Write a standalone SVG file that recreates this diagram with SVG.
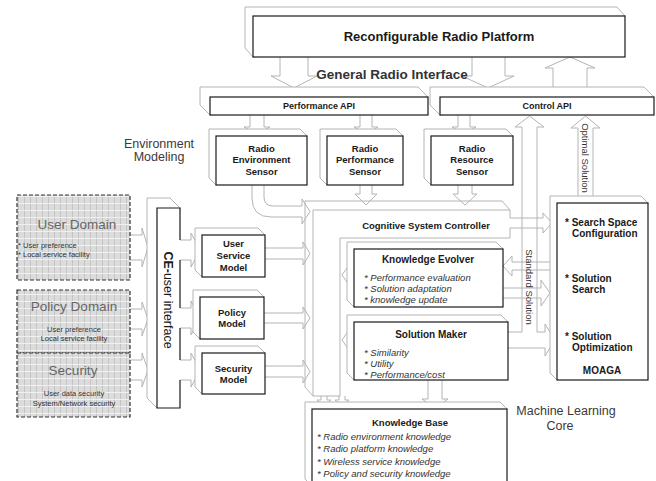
<svg xmlns="http://www.w3.org/2000/svg" width="656" height="481" viewBox="0 0 656 481">
  <defs>
    <!-- fine grid texture used for the domain panels -->
    <pattern id="grid" width="6" height="7" patternUnits="userSpaceOnUse">
      <rect width="6" height="7" fill="#dcdcdc"/>
      <path d="M0.5,0 V7" stroke="#c3c3c3" stroke-width="1"/>
      <path d="M0,0.5 H6" stroke="#f0f0f0" stroke-width="1"/>
    </pattern>
  </defs>
  <style>
    text { font-family: "Liberation Sans", Arial, Helvetica, sans-serif; }
    .fr { fill: #fff; stroke: #1a1a1a; stroke-width: 1.2; }
    .bk { fill: #fff; stroke: #b4b4b4; stroke-width: 1; }
    .ar { fill: none; stroke: #b4b4b4; stroke-width: 1; }
    .gw { fill: none; stroke: #b4b4b4; stroke-width: 1; }
    .ttl { font-weight: bold; font-size: 9.5px; fill: #1a1a1a; text-anchor: middle; }
    .mo { font-weight: bold; font-size: 10px; fill: #1a1a1a; }
    .it { font-style: italic; font-size: 9.5px; fill: #333; }
    .lbl { font-size: 12.5px; fill: #3a3a3a; text-anchor: middle; }
    .vt { font-size: 9.5px; fill: #333; text-anchor: middle; }
    .dom { fill: url(#grid); stroke: #333; stroke-width: 1.2; stroke-dasharray: 4 2; }
    .dt { font-size: 13.5px; fill: #666; text-anchor: middle; }
    .ds { font-size: 7.5px; fill: #333; }
  </style>

  <rect width="656" height="481" fill="#fff"/>

  <!-- hollow block arrows between the components -->
  <g id="connectors">
    <path class="ar" d="M280,57 V76 H271 L294,88 L317,76 H308 V57"/>
    <path class="ar" d="M472,57 V76 H462 L488,88 L514,76 H505 V57"/>
    <path class="ar" d="M553,87 V68 H545 L570,57 L595,68 H587 V87"/>
    <text x="392" y="79" style="font-weight:bold;font-size:13.5px;fill:#333;text-anchor:middle">General Radio Interface</text>

    <path class="ar" d="M250,115 V127 H244 L257,134 L270,127 H264 V115"/>
    <path class="ar" d="M360,115 V127 H354 L366,134 L378,127 H372 V115"/>
    <path class="ar" d="M458,115 V127 H452 L464,134 L476,127 H470 V115"/>
    <path class="ar" d="M360,185 V194 H355 L366,205 L377,194 H372 V185"/>
    <path class="ar" d="M458,185 V194 H453 L465,205 L477,194 H472 V185"/>
    <path class="ar" d="M264,185 V197 Q264,206 273,206 H302 V199 L310,211.5 L302,224 V217 H271 Q252,217 252,198 V185"/>

    <path class="ar" d="M130,235 H142 V228 L148,247.5 L142,267 V260 H130"/>
    <path class="ar" d="M130,309 H142 V302 L148,319 L142,336 V329 H130"/>
    <path class="ar" d="M130,360 H142 V353 L148,370 L142,387 V380 H130"/>

    <path class="ar" d="M180,240 H191 V233 L200,250 L191,267 V260 H180"/>
    <path class="ar" d="M180,308 H191 V301 L200,318 L191,335 V328 H180"/>
    <path class="ar" d="M180,360 H191 V353 L200,370 L191,387 V380 H180"/>

    <path class="ar" d="M265,248 H303 V242 L310,253.5 L303,265 V259 H265"/>
    <path class="ar" d="M264,313 H303 V307 L310,318 L303,329 V323 H264"/>
    <path class="ar" d="M265,366 H303 V360 L310,371.5 L303,383 V377 H265"/>

    <path class="ar" d="M510,218 H543 V213 L552,223 L543,233 V228 H510"/>
    <path class="ar" d="M557,262 H512 V256 L503,266 L512,276 V270 H557"/>
    <path class="ar" d="M503,288 H541 V280 L550,293 L541,306 V298 H503"/>

    <path class="ar" d="M508,332 H522 V127 H515 L529.5,116 L544,127 H537 V332 H545 V324 L555,340 L545,356 V348 H508"/>
    <text class="vt" transform="translate(529.5,287) rotate(90)" y="3.4">Standard  Solution</text>

    <path class="ar" d="M578,196 V128 H571 L585.5,116 L600,128 H593 V196"/>
    <text class="vt" transform="translate(585.5,158) rotate(90)" y="3.4">Optimal  Solution</text>

    <path class="ar" d="M321,396 V400 H317 L324,407 L331,400 H327 V396"/>
    <path class="ar" d="M339,396 V400 H335 L342,407 L349,400 H345 V396"/>
    <path class="ar" d="M428,380 V399 H422 L435,408 L448,399 H442 V380"/>

    <path class="ar" d="M354,271 H349 V265 L342,275 L349,285 V279 H354"/>
    <path class="ar" d="M354,336 H349 V330 L342,340 L349,350 V344 H354"/>
  </g>

  <g id="platform">
    <polygon class="bk" points="253,57 245,48 245,7 617,7 625,16"/>
    <rect class="fr" x="253" y="16" width="372" height="41"/>
    <text class="ttl" x="439" y="41" style="font-size:13px">Reconfigurable Radio Platform</text>
  </g>

  <g id="performance-api">
    <polygon class="bk" points="210,115 200,105 200,87 418,87 428,97"/>
    <rect class="fr" x="210" y="97" width="218" height="18"/>
    <text class="ttl" x="319" y="109.3" style="font-size:9px">Performance API</text>
  </g>

  <g id="control-api">
    <polygon class="bk" points="440,115 430,105 430,87 644,87 654,97"/>
    <rect class="fr" x="440" y="97" width="214" height="18"/>
    <text class="ttl" x="547" y="109.3" style="font-size:9px">Control API</text>
  </g>

  <g id="radio-environment-sensor">
    <polygon class="bk" points="216,185 209,178 209,129 300,129 307,136"/>
    <rect class="fr" x="216" y="136" width="91" height="49"/>
    <text class="ttl" x="261.5" y="151.5">Radio</text>
    <text class="ttl" x="261.5" y="163">Environment</text>
    <text class="ttl" x="261.5" y="174.5">Sensor</text>
  </g>

  <g id="radio-performance-sensor">
    <polygon class="bk" points="327,185 320,178 320,129 396,129 403,136"/>
    <rect class="fr" x="327" y="136" width="76" height="49"/>
    <text class="ttl" x="365" y="151.5">Radio</text>
    <text class="ttl" x="365" y="163">Performance</text>
    <text class="ttl" x="365" y="174.5">Sensor</text>
  </g>

  <g id="radio-resource-sensor">
    <polygon class="bk" points="431,185 424,178 424,129 506,129 513,136"/>
    <rect class="fr" x="431" y="136" width="82" height="49"/>
    <text class="ttl" x="472" y="151.5">Radio</text>
    <text class="ttl" x="472" y="163">Resource</text>
    <text class="ttl" x="472" y="174.5">Sensor</text>
  </g>

  <g id="cognitive-system-controller">
    <path class="gw" d="M313,396 L305,387 V201 H502 L510,210 H313 V396 H340"/>
    <path class="gw" d="M510,210 V218 M510,228 V238 H340 V396"/>
    <text class="ttl" x="426" y="228.5">Cognitive System Controller</text>
  </g>

  <g id="knowledge-evolver">
    <polygon class="bk" points="354,307 347,300 347,242 496,242 503,249"/>
    <rect class="fr" x="354" y="249" width="149" height="58"/>
    <text class="ttl" x="428" y="262.5" style="font-size:10px">Knowledge Evolver</text>
    <text class="it" x="364" y="280.5">* Performance evaluation</text>
    <text class="it" x="364" y="291.5">* Solution adaptation</text>
    <text class="it" x="364" y="302.5">* knowledge update</text>
  </g>

  <g id="solution-maker">
    <polygon class="bk" points="354,380 347,373 347,315 501,315 508,322"/>
    <rect class="fr" x="354" y="322" width="154" height="58"/>
    <text class="ttl" x="431" y="337.5" style="font-size:10px">Solution Maker</text>
    <text class="it" x="364" y="355.5">* Similarity</text>
    <text class="it" x="364" y="366.5">* Utility</text>
    <text class="it" x="364" y="377.5">* Performance/cost</text>
  </g>

  <g id="moaga">
    <polygon class="bk" points="557,380 550,373 550,196 641,196 648,203"/>
    <rect class="fr" x="557" y="203" width="91" height="177"/>
    <text class="mo" x="565" y="225.5">* Search Space</text>
    <text class="mo" x="572" y="236.5">Configuration</text>
    <text class="mo" x="565" y="281.5">* Solution</text>
    <text class="mo" x="572" y="292.5">Search</text>
    <text class="mo" x="565" y="339.5">* Solution</text>
    <text class="mo" x="572" y="350.5">Optimization</text>
    <text class="mo" x="602" y="373.5" style="text-anchor:middle">MOAGA</text>
  </g>

  <g id="knowledge-base">
    <polygon class="bk" points="312,486 305,479 305,402 500,402 507,409"/>
    <rect class="fr" x="312" y="409" width="195" height="78"/>
    <text class="ttl" x="410" y="425.5">Knowledge Base</text>
    <text class="it" x="317" y="440">* Radio environment knowledge</text>
    <text class="it" x="317" y="452">* Radio platform knowledge</text>
    <text class="it" x="317" y="464.5">* Wireless service knowledge</text>
    <text class="it" x="317" y="476.5">* Policy and security knowledge</text>
  </g>

  <g id="ce-user-interface">
    <polygon class="bk" points="157,408 147,398 147,198 170,198 180,208"/>
    <rect x="157" y="208" width="23" height="200" fill="#fff"/>
    <path d="M180,240 V208 H157 V408 H180 V380 M180,360 V328 M180,308 V260" fill="none" stroke="#1a1a1a" stroke-width="1.2"/>
    <text transform="translate(168.5,300) rotate(90)" y="4.5" style="font-size:12.5px;fill:#1a1a1a;text-anchor:middle"><tspan font-weight="bold">CE-</tspan>user interface</text>
  </g>

  <g id="user-service-model">
    <polygon class="bk" points="202,277 195,270 195,228 258,228 265,235"/>
    <rect class="fr" x="202" y="235" width="63" height="42"/>
    <text class="ttl" x="233.5" y="246.5">User</text>
    <text class="ttl" x="233.5" y="258.5">Service</text>
    <text class="ttl" x="233.5" y="270.5">Model</text>
  </g>

  <g id="policy-model">
    <polygon class="bk" points="200,339 193,332 193,290 257,290 264,297"/>
    <rect class="fr" x="200" y="297" width="64" height="42"/>
    <text class="ttl" x="232" y="315.5">Policy</text>
    <text class="ttl" x="232" y="326.5">Model</text>
  </g>

  <g id="security-model">
    <polygon class="bk" points="202,394 195,387 195,346 258,346 265,353"/>
    <rect class="fr" x="202" y="353" width="63" height="41"/>
    <text class="ttl" x="233.5" y="371.5">Security</text>
    <text class="ttl" x="233.5" y="382.5">Model</text>
  </g>

  <g id="user-domain">
    <rect class="dom" x="17" y="195" width="113" height="85"/>
    <text class="dt" x="77" y="229">User Domain</text>
    <text class="ds" x="18" y="247.5">* User preference</text>
    <text class="ds" x="18" y="256.5">* Local service facility</text>
  </g>

  <g id="policy-domain">
    <rect class="dom" x="17" y="290" width="113" height="63"/>
    <text class="dt" x="74" y="311">Policy Domain</text>
    <text class="ds" x="74" y="331.5" style="text-anchor:middle">User preference</text>
    <text class="ds" x="74" y="341" style="text-anchor:middle">Local service facility</text>
  </g>

  <g id="security-domain">
    <rect class="dom" x="17" y="353" width="113" height="64"/>
    <text class="dt" x="73" y="375">Security</text>
    <text class="ds" x="74" y="395.5" style="text-anchor:middle">User data security</text>
    <text class="ds" x="74" y="405.5" style="text-anchor:middle">System/Network security</text>
  </g>

  <g id="region-labels">
    <text class="lbl" x="159" y="148">Environment</text>
    <text class="lbl" x="159" y="161">Modeling</text>
    <text class="lbl" x="566" y="415">Machine Learning</text>
    <text class="lbl" x="560" y="430">Core</text>
  </g>
</svg>
